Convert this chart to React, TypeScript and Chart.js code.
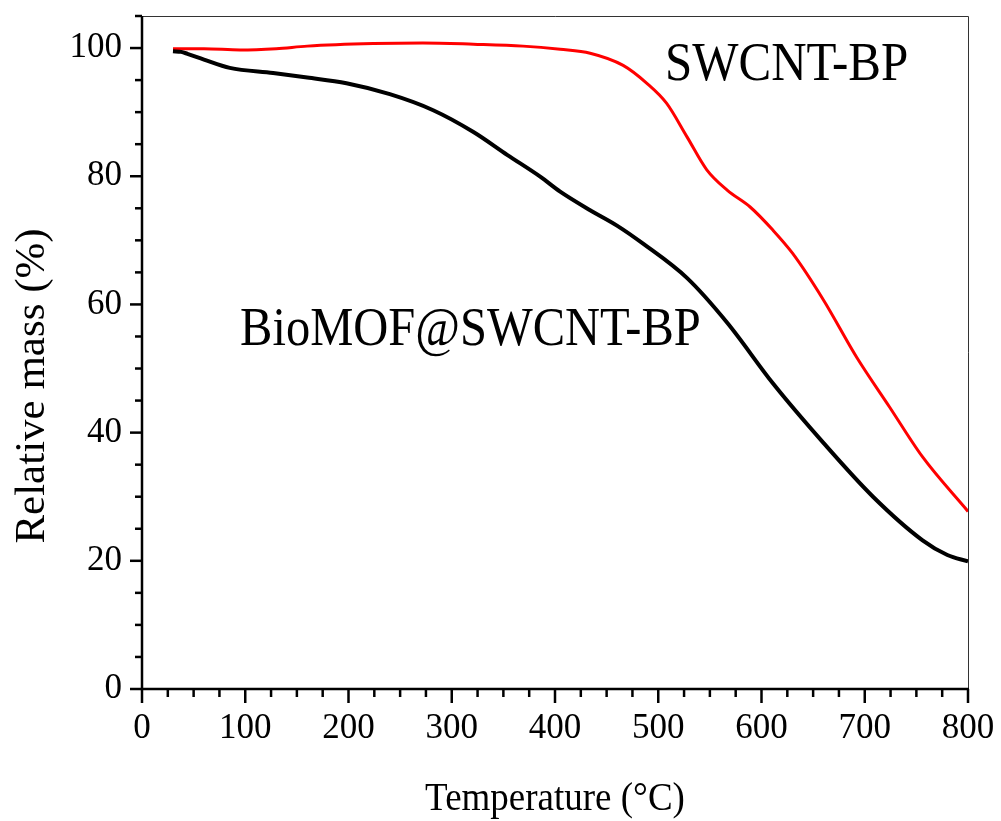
import React, { useEffect, useRef } from "react";
import { Chart, registerables } from "chart.js";

Chart.register(...registerables);

// ---- Data ----
const blackTemps = [30, 38, 44, 60, 85, 127, 160, 198, 240, 282, 321, 354, 386, 405, 434, 460, 486, 528, 567, 611, 660, 708, 756, 780, 800];
const blackMass = [99.5, 99.4, 99.1, 98.2, 96.9, 96.1, 95.4, 94.5, 92.8, 90.3, 86.9, 83.3, 79.9, 77.6, 74.7, 72.3, 69.4, 64.1, 57.1, 47.7, 38.4, 30.0, 23.2, 20.9, 19.9];

const redTemps = [30, 60, 95, 130, 160, 224, 272, 321, 369, 405, 434, 466, 489, 508, 528, 547, 567, 589, 611, 630, 660, 692, 724, 756, 800];
const redMass = [99.9, 99.9, 99.7, 99.9, 100.3, 100.7, 100.8, 100.6, 100.3, 99.8, 99.2, 97.3, 94.5, 91.4, 86.1, 81.0, 77.8, 75.2, 71.6, 68.0, 60.7, 51.8, 44.0, 36.2, 27.7];

const xTickValues = [0, 100, 200, 300, 400, 500, 600, 700, 800];
const yTickValues = [0, 20, 40, 60, 80, 100];

const xTitle = "Temperature (°C)";
const yTitle = "Relative mass (%)";
const labelRed = "SWCNT-BP";
const labelBlack = "BioMOF@SWCNT-BP";

const SERIF = '"Liberation Serif", "Times New Roman", "DejaVu Serif", serif';

const axesPlugin = {
  id: "customAxes",
  afterDraw(chart: any) {
    const { ctx, chartArea } = chart;
    const xs = chart.scales.x;
    const ys = chart.scales.y;
    const { left, right, top, bottom } = chartArea;
    ctx.save();
    // thin top and right borders
    ctx.strokeStyle = "#333";
    ctx.lineWidth = 1;
    ctx.beginPath();
    ctx.moveTo(left, top + 0.5);
    ctx.lineTo(right + 0.5, top + 0.5);
    ctx.lineTo(right + 0.5, bottom);
    ctx.stroke();
    // thick left and bottom axes
    ctx.strokeStyle = "#000";
    ctx.lineWidth = 2.5;
    ctx.beginPath();
    ctx.moveTo(left, top);
    ctx.lineTo(left, bottom);
    ctx.lineTo(right + 1, bottom);
    ctx.stroke();
    // y ticks
    ctx.lineWidth = 2.5;
    for (let v = 0; v <= 105; v += 5) {
      const y = ys.getPixelForValue(v);
      const len = v % 20 === 0 ? 12 : 7;
      ctx.beginPath();
      ctx.moveTo(left - len, y);
      ctx.lineTo(left, y);
      ctx.stroke();
    }
    // x ticks
    for (let v = 0; v <= 800; v += 25) {
      const x = xs.getPixelForValue(v);
      const len = v % 100 === 0 ? 14 : 8;
      ctx.beginPath();
      ctx.moveTo(x, bottom);
      ctx.lineTo(x, bottom + len);
      ctx.stroke();
    }
    ctx.fillStyle = "#000";
    // x title
    ctx.save();
    ctx.font = `37px ${SERIF}`;
    ctx.textAlign = "center";
    ctx.textBaseline = "alphabetic";
    ctx.translate((left + right) / 2, 810);
    ctx.scale(1, 1.1);
    ctx.fillText(xTitle, 0, 0);
    ctx.restore();
    // y title
    ctx.save();
    ctx.font = `43px ${SERIF}`;
    ctx.textAlign = "center";
    ctx.textBaseline = "alphabetic";
    ctx.translate(44, 386);
    ctx.rotate(-Math.PI / 2);
    ctx.fillText(yTitle, 0, 0);
    ctx.restore();
    // annotations
    ctx.save();
    ctx.font = `49px ${SERIF}`;
    ctx.textAlign = "left";
    ctx.textBaseline = "alphabetic";
    ctx.translate(xs.getPixelForValue(506.5), ys.getPixelForValue(95.0));
    ctx.scale(1, 1.12);
    ctx.fillText(labelRed, 0, 0);
    ctx.restore();
    ctx.save();
    ctx.font = `48.5px ${SERIF}`;
    ctx.textAlign = "left";
    ctx.textBaseline = "alphabetic";
    ctx.translate(xs.getPixelForValue(95), ys.getPixelForValue(53.7));
    ctx.scale(1, 1.13);
    ctx.fillText(labelBlack, 0, 0);
    ctx.restore();
    ctx.restore();
  },
};

export default function App() {
  const ref = useRef<HTMLCanvasElement | null>(null);
  useEffect(() => {
    if (!ref.current) return;
    const chart = new Chart(ref.current, {
      type: "line",
      data: {
        datasets: [
          {
            label: labelBlack,
            data: blackTemps.map((t, i) => ({ x: t, y: blackMass[i] })),
            borderColor: "#000000",
            borderWidth: 4,
            pointRadius: 0,
            cubicInterpolationMode: "monotone",
            fill: false,
          },
          {
            label: labelRed,
            data: redTemps.map((t, i) => ({ x: t, y: redMass[i] })),
            borderColor: "#ff0000",
            borderWidth: 3,
            pointRadius: 0,
            cubicInterpolationMode: "monotone",
            fill: false,
          },
        ],
      },
      options: {
        animation: false,
        responsive: false,
        maintainAspectRatio: false,
        layout: { padding: { top: 16, right: 33, left: 0, bottom: 0 } },
        plugins: { legend: { display: false }, tooltip: { enabled: false } },
        scales: {
          x: {
            type: "linear",
            min: 0,
            max: 800,
            afterBuildTicks: (s: any) => {
              s.ticks = xTickValues.map((v) => ({ value: v }));
            },
            afterFit: (s: any) => {
              s.height = 132;
              s.paddingLeft = 0;
              s.paddingRight = 0;
            },
            ticks: {
              color: "#000",
              font: { family: SERIF, size: 35 },
              padding: 19,
              maxRotation: 0,
              autoSkip: false,
            },
            grid: { display: false, drawTicks: false },
            border: { display: false },
          },
          y: {
            type: "linear",
            min: 0,
            max: 105,
            afterBuildTicks: (s: any) => {
              s.ticks = yTickValues.map((v) => ({ value: v }));
            },
            afterFit: (s: any) => {
              s.width = 142;
              s.paddingTop = 0;
              s.paddingBottom = 0;
            },
            ticks: {
              color: "#000",
              font: { family: SERIF, size: 35 },
              padding: 20,
              autoSkip: false,
            },
            grid: { display: false, drawTicks: false },
            border: { display: false },
          },
        },
      },
      plugins: [axesPlugin],
    } as any);
    return () => chart.destroy();
  }, []);
  return (
    <div style={{ position: "fixed", left: 0, top: 0, width: 1001, height: 821, background: "#fff" }}>
      <canvas ref={ref} width={1001} height={821} style={{ display: "block" }} />
    </div>
  );
}
